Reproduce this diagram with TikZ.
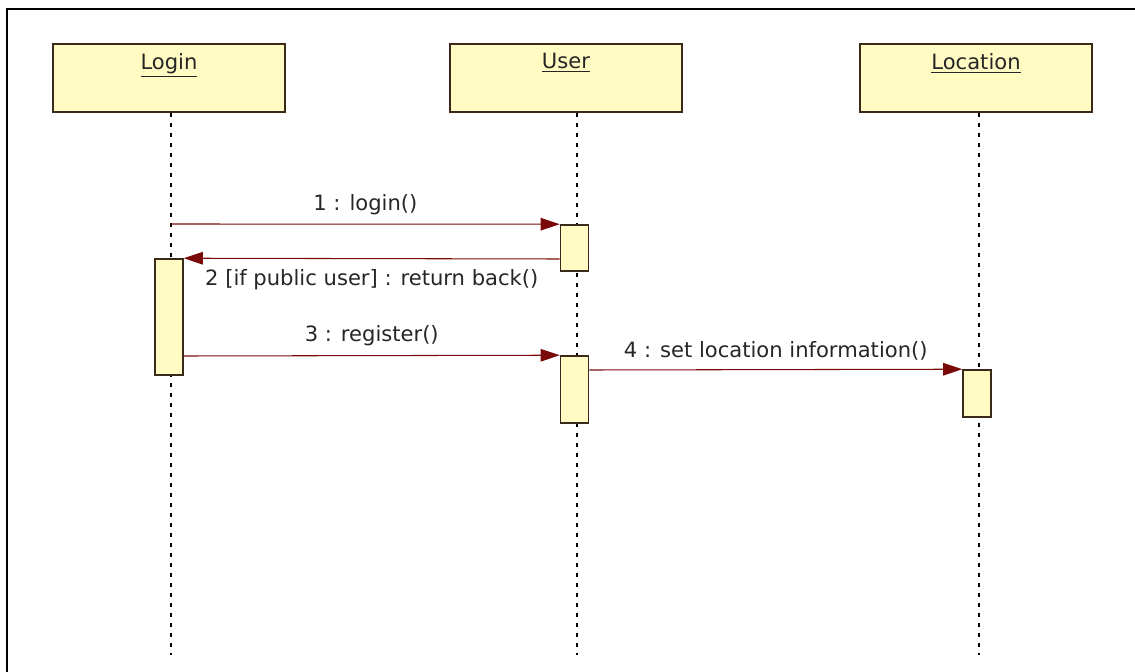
\documentclass[tikz,border=0pt]{standalone}
\usepackage{fontspec}
\setmainfont{DejaVu Sans}
\usetikzlibrary{arrows.meta}
\usetikzlibrary{positioning}
\definecolor{boxfill}{HTML}{FFFBC2}
\definecolor{boxline}{HTML}{3B2A1A}
\definecolor{msgred}{HTML}{7A0A0A}
\tikzset{obj/.style = {draw=boxline, fill=boxfill, line width=0.9pt, minimum width=4.64cm, minimum height=1.36cm, inner sep=0pt}}
\tikzset{act/.style = {draw=boxline, fill=boxfill, line width=0.9pt, minimum width=0.56cm, inner sep=0pt}}
\tikzset{life/.style = {line width=1pt, dash pattern=on 0.08cm off 0.12cm}}
\tikzset{msg/.style = {-{Triangle[length=0.38cm,width=0.25cm]}, draw=msgred, line width=0.6pt}}
\tikzset{lbl/.style = {font=\fontsize{12}{14}\selectfont, text=black!85, inner sep=1pt}}

\begin{document}
\begin{tikzpicture}[x=0.02cm, y=-0.02cm]
		\useasboundingbox (0,0) rectangle (1135,672);
		%draw frame
		\draw[line width=1.2pt] (1135,9) -- (7,9) -- (7,672);

		%draw objects
		\node[obj](login) at (169,78){};
		\node[obj](user) at (566,78){};
		\node[obj](location) at (976,78){};
		\node[lbl, anchor=north] at (login.north |- 0,51){\underline{Login}};
		\node[lbl, anchor=north] at (user.north |- 0,51){\underline{User}};
		\node[lbl, anchor=north] at (location.north |- 0,51){\underline{Location}};

		%draw lifelines
		\coordinate(loginEnd) at (171,655);
		\coordinate(userEnd) at (577,655);
		\coordinate(locEnd) at (979,655);
		\draw[life] (loginEnd |- login.south) -- (loginEnd);
		\draw[life] (userEnd |- user.south) -- (userEnd);
		\draw[life] (locEnd |- location.south) -- (locEnd);

		%draw activations
		\node[act, minimum height=2.32cm](actA) at (169,317){};
		\node[act, minimum height=0.92cm](actB) at (574.5,248){};
		\node[act, minimum height=1.34cm](actC) at (574.5,389.5){};
		\node[act, minimum height=0.94cm](actD) at (977,393.5){};

		%draw messages
		\coordinate(m1) at (171,224);
		\draw[msg] (m1) -- (actB.north west) node[lbl, midway, above=4pt]{1 : login()};
		\draw[msg] (actB.west |- 0,259) -- (actA.north east) node[lbl, midway, below=5pt]{2 [if public user] : return back()};
		\draw[msg] (actA.east |- 0,356) -- (actC.north west) node[lbl, midway, above=4pt]{3 : register()};
		\draw[msg] (actC.east |- 0,370) -- (actD.north west) node[lbl, midway, above=4pt]{4 : set location information()};
		\end{tikzpicture}
\end{document}
